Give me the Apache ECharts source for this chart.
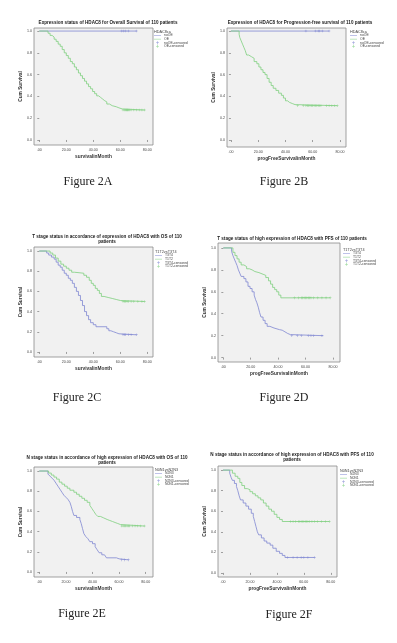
<!DOCTYPE html>
<html>
<head>
<meta charset="utf-8">
<script src="https://cdn.jsdelivr.net/npm/echarts@6/dist/echarts.min.js"></script>
<style>
  html, body { margin: 0; padding: 0; background: #fff; }
  #chart { width: 397px; height: 643px; }
</style>
</head>
<body>
<div id="chart"></div>
<script>
// ticks
const xTickValues = [0, 20, 40, 60, 80]
const xTickLabels = ['.00', '20.00', '40.00', '60.00', '80.00']
const yTickValues = [0, 0.2, 0.4, 0.6, 0.8, 1.0]
const yTickLabels = ['0.0', '0.2', '0.4', '0.6', '0.8', '1.0']

// texts
const panelTitles = [
  ['Expression status of HDAC8 for Overall Survival of 110 patients'],
  ['Expression of HDAC8 for Progression-free survival of 110 patients'],
  ['T stage status in accordance of expression of HDAC8 with OS of 110', 'patients'],
  ['T stage status of high expression of HDAC8 with PFS of 110 patients'],
  ['N stage status in accordance of high expression of HDAC8 with OS of 110', 'patients'],
  ['N stage status in accordance of high expression of HDAC8 with PFS of 110', 'patients']
]
const figureLabels = ['Figure 2A', 'Figure 2B', 'Figure 2C', 'Figure 2D', 'Figure 2E', 'Figure 2F']
const xNames = ['survivalinMonth', 'progFreeSurvivalinMonth', 'survivalinMonth',
  'progFreeSurvivalinMonth', 'survivalinMonth', 'progFreeSurvivalinMonth']
const legendTitles = ['HDAC8ca', 'HDAC8ca', 'T1T2vsT3T4', 'T1T2vsT3T4', 'N0N1vsN2N3', 'N0N1vsN2N3']
const groupNames = [['noOE', 'OE'], ['noOE', 'OE'], ['T3T4', 'T1T2'], ['T3T4', 'T1T2'],
  ['N2N3', 'N0N1'], ['N2N3', 'N0N1']]

// Kaplan-Meier steps: [month, cum survival]
const osNoOE = [[0, 1], [72, 1]]
const osOE = [[0, 1], [6.5, 0.98], [8, 0.96], [9.5, 0.945], [11, 0.925], [12.5, 0.905], [14, 0.88],
  [15.5, 0.86], [17, 0.83], [18.5, 0.8], [20, 0.775], [21.5, 0.75], [23, 0.72], [24.5, 0.7],
  [26, 0.67], [27.5, 0.645], [29, 0.615], [30.5, 0.59], [32, 0.565], [33.5, 0.54], [35, 0.515],
  [36.5, 0.49], [38, 0.47], [39.5, 0.445], [41, 0.425], [42.5, 0.405], [44, 0.39], [45.5, 0.375],
  [47, 0.36], [48.5, 0.35], [50, 0.33], [52, 0.315], [54, 0.305], [57, 0.295], [59, 0.285],
  [61.5, 0.275], [78, 0.275]]
const pfsNoOE = [[0, 1], [72, 1]]
const pfsOE = [[0, 1], [6, 0.97], [6.5, 0.94], [7.5, 0.91], [8.5, 0.88], [9.5, 0.85], [10.5, 0.82],
  [11.5, 0.78], [13, 0.765], [15, 0.75], [17, 0.72], [19, 0.7], [20.5, 0.67], [22, 0.645],
  [23.5, 0.62], [25, 0.6], [26.5, 0.565], [28, 0.53], [29.5, 0.5], [31, 0.475], [33, 0.455],
  [35, 0.43], [37, 0.41], [38.5, 0.385], [40, 0.36], [41.5, 0.345], [43, 0.335], [45, 0.325],
  [47, 0.315], [78, 0.315]]
const osT3T4 = [[0, 1], [5.5, 0.98], [7, 0.96], [9, 0.94], [11, 0.92], [12.5, 0.89], [14, 0.86],
  [15.5, 0.84], [17, 0.81], [18.5, 0.78], [20, 0.76], [21.5, 0.73], [23, 0.71], [24.5, 0.68],
  [26, 0.64], [27.5, 0.6], [29, 0.56], [30.5, 0.51], [32, 0.46], [33.5, 0.4], [35, 0.36],
  [36.5, 0.32], [38, 0.29], [40, 0.27], [42, 0.25], [50, 0.23], [51.5, 0.21], [53, 0.2],
  [55, 0.19], [57, 0.18], [59, 0.17], [72, 0.17]]
const osT1T2 = [[0, 1], [8, 0.98], [10, 0.96], [12, 0.93], [14, 0.9], [16, 0.87], [18, 0.85],
  [20, 0.83], [22, 0.81], [24, 0.79], [26, 0.78], [33, 0.76], [35, 0.74], [37, 0.71], [38.5, 0.68],
  [40, 0.66], [41.5, 0.63], [43, 0.61], [44.5, 0.58], [46, 0.55], [48, 0.54], [51, 0.53],
  [54, 0.52], [57, 0.51], [60, 0.5], [78, 0.5]]
const pfsT3T4 = [[0, 1], [6, 0.97], [7, 0.93], [8, 0.9], [9, 0.87], [10, 0.84], [11, 0.8], [12, 0.77],
  [13, 0.74], [15, 0.72], [16.5, 0.69], [18, 0.65], [19.5, 0.63], [21, 0.6], [22.5, 0.57],
  [23.5, 0.53], [24.5, 0.5], [25.5, 0.46], [26.5, 0.41], [27.5, 0.37], [29, 0.34], [30.5, 0.31],
  [32, 0.285], [34, 0.27], [37, 0.255], [41, 0.25], [43, 0.235], [45, 0.22], [47, 0.21],
  [49, 0.2], [73, 0.2]]
const pfsT1T2 = [[0, 1], [7, 0.96], [8.5, 0.93], [10, 0.9], [11.5, 0.87], [13, 0.845], [15, 0.83],
  [17, 0.81], [19, 0.8], [21, 0.785], [23, 0.775], [26, 0.76], [29, 0.75], [31, 0.73], [33, 0.7],
  [34.5, 0.67], [36, 0.64], [37.5, 0.62], [39, 0.6], [40.5, 0.57], [42, 0.545], [78, 0.545]]
const osN2N3 = [[0, 1], [6.5, 0.97], [8, 0.95], [9.5, 0.93], [11, 0.91], [12.5, 0.88], [14, 0.85],
  [15.5, 0.82], [17, 0.79], [18.5, 0.76], [20, 0.74], [21.5, 0.72], [23, 0.69], [24, 0.65],
  [25, 0.6], [26, 0.56], [28, 0.54], [30.5, 0.52], [31.5, 0.48], [32.5, 0.43], [33.5, 0.38],
  [35, 0.35], [36.5, 0.33], [38, 0.3], [40, 0.28], [42, 0.25], [43.5, 0.22], [45, 0.19],
  [47, 0.17], [49, 0.16], [50.5, 0.14], [58, 0.13], [60, 0.12], [67, 0.12]]
const osN0N1 = [[0, 1], [7, 0.98], [9, 0.96], [11, 0.94], [13, 0.92], [15, 0.89], [17, 0.87],
  [19, 0.85], [21, 0.83], [23, 0.81], [26, 0.79], [28, 0.77], [30, 0.75], [32, 0.73], [34, 0.71],
  [36, 0.69], [38, 0.66], [39.5, 0.63], [41, 0.6], [42.5, 0.57], [44, 0.55], [46, 0.535],
  [48.5, 0.52], [51, 0.51], [53, 0.5], [55, 0.49], [57, 0.48], [59, 0.47], [61, 0.46],
  [62, 0.455], [79, 0.455]]
const pfsN2N3 = [[0, 1], [5, 0.97], [6, 0.93], [7, 0.9], [8.5, 0.87], [10, 0.84], [11, 0.8], [12, 0.75],
  [13, 0.71], [15, 0.68], [17, 0.65], [19, 0.62], [21, 0.58], [22.5, 0.55], [23.5, 0.5],
  [24.5, 0.45], [25.5, 0.4], [26.5, 0.37], [28.5, 0.34], [30.5, 0.31], [32.5, 0.29], [35, 0.27],
  [37, 0.24], [39.5, 0.21], [42, 0.19], [44, 0.17], [46, 0.15], [68, 0.15]]
const pfsN0N1 = [[0, 1], [7, 0.97], [9, 0.94], [11, 0.92], [12.5, 0.88], [14, 0.85], [16, 0.82],
  [18, 0.81], [20, 0.79], [22, 0.77], [24, 0.75], [26, 0.73], [28, 0.71], [30, 0.68], [32, 0.65],
  [34, 0.62], [36, 0.6], [38, 0.57], [40, 0.54], [42, 0.52], [44, 0.5], [79, 0.5]]

// censored months
const osNoOECens = [61, 62.5, 64, 66, 72]
const osOECens = [62, 63, 64, 64.5, 65, 65.5, 66, 67, 68, 70, 72, 74, 76, 78]
const pfsNoOECens = [55, 62, 64, 65, 67, 72]
const pfsOECens = [49, 53, 55, 56, 57, 58, 59, 60, 61, 62, 63, 64, 65, 66, 70, 72, 74, 76, 78]
const osT3T4Cens = [62, 63, 64, 66, 68, 72]
const osT1T2Cens = [62, 63, 64, 65, 66, 68, 70, 73, 76, 78]
const pfsT3T4Cens = [50, 54, 57, 62, 64, 66, 72]
const pfsT1T2Cens = [52, 55, 57, 58, 59, 60, 61, 62, 63, 64, 66, 69, 72, 75, 78]
const osN2N3Cens = [62, 64, 67]
const osN0N1Cens = [62, 63, 64, 65, 66, 67, 68, 70, 72, 74, 76, 79]
const pfsN2N3Cens = [48, 52, 55, 58, 60, 63, 68]
const pfsN0N1Cens = [50, 52, 54, 56, 57, 58, 59, 60, 61, 62, 63, 64, 66, 68, 70, 73, 76, 79]

const curves = [
  [osNoOE, osOE], [pfsNoOE, pfsOE], [osT3T4, osT1T2],
  [pfsT3T4, pfsT1T2], [osN2N3, osN0N1], [pfsN2N3, pfsN0N1]
]
const censored = [
  [osNoOECens, osOECens], [pfsNoOECens, pfsOECens], [osT3T4Cens, osT1T2Cens],
  [pfsT3T4Cens, pfsT1T2Cens], [osN2N3Cens, osN0N1Cens], [pfsN2N3Cens, pfsN0N1Cens]
]

// layout: grid [left, top, width, height], axis extents, text anchors
const layout = [
  { grid: [34, 28, 119, 117], x: [-3.9, 84.2], y: [-0.046, 1.028], title: [108, 23], leg: [154, 30], fig: [88, 182], yGap: 9 },
  { grid: [227, 28, 119, 119], x: [-2.9, 84.4], y: [-0.064, 1.028], title: [300, 23], leg: [350, 30], fig: [284, 182], yGap: 9 },
  { grid: [34, 247, 119, 110], x: [-3.9, 84.2], y: [-0.05, 1.04], title: [107, 237], leg: [155, 250], fig: [77, 398], yGap: 9 },
  { grid: [218, 243, 122, 119], x: [-3.9, 85.2], y: [-0.04, 1.045], title: [292, 239], leg: [343, 248], fig: [284, 398], yGap: 11 },
  { grid: [34, 467, 119, 110], x: [-4, 85.5], y: [-0.05, 1.04], title: [107, 458], leg: [155, 468], fig: [82, 614], yGap: 9 },
  { grid: [218, 466, 119, 111], x: [-3.7, 84.6], y: [-0.04, 1.04], title: [292, 455], leg: [340, 469], fig: [289, 615], yGap: 11 }
]

const colors = ['#7f86d2', '#7dcf7d']
const font = '"Liberation Sans", Arial, sans-serif'
const lineIcon = 'path://M0,0H14V1H0Z'
const crossIcon = 'path://M4,0H6V4H10V6H6V10H4V6H0V4H4Z'

function tickLabel(values, labels) {
  return v => {
    const i = values.findIndex(t => Math.abs(t - v) < 1e-6)
    return i >= 0 ? labels[i] : ''
  }
}

const grids = [], xAxes = [], yAxes = [], series = [], legends = [], graphics = []

layout.forEach((l, i) => {
  grids.push({
    left: l.grid[0], top: l.grid[1], width: l.grid[2], height: l.grid[3],
    show: true, backgroundColor: '#f1f1f1', borderColor: '#8a8a8a', borderWidth: 0.8
  })
  xAxes.push({
    type: 'value', gridIndex: i, min: l.x[0], max: l.x[1],
    name: xNames[i], nameLocation: 'middle', nameGap: 9,
    nameTextStyle: { fontSize: 4.8, fontWeight: 'bold', color: '#333', fontFamily: font },
    axisLine: { show: false },
    axisTick: { show: true, length: 2, customValues: xTickValues, lineStyle: { color: '#666', width: 0.6 } },
    axisLabel: {
      customValues: xTickValues, formatter: tickLabel(xTickValues, xTickLabels),
      fontSize: 3.6, color: '#444', margin: 3, fontFamily: font
    },
    splitLine: { show: false }
  })
  yAxes.push({
    type: 'value', gridIndex: i, min: l.y[0], max: l.y[1],
    name: 'Cum Survival', nameLocation: 'middle', nameGap: l.yGap,
    nameTextStyle: { fontSize: 4.8, fontWeight: 'bold', color: '#333', fontFamily: font },
    axisLine: { show: false },
    axisTick: { show: true, length: 2, customValues: yTickValues, lineStyle: { color: '#666', width: 0.6 } },
    axisLabel: {
      customValues: yTickValues, formatter: tickLabel(yTickValues, yTickLabels),
      fontSize: 3.6, color: '#444', margin: 2, fontFamily: font
    },
    splitLine: { show: false }
  })

  const names = groupNames[i]
  curves[i].forEach((c, k) => {
    series.push({
      name: names[k], type: 'line', step: 'end', xAxisIndex: i, yAxisIndex: i,
      data: c, showSymbol: false, symbol: 'none', silent: true,
      lineStyle: { color: colors[k], width: 0.8 }, itemStyle: { color: colors[k] }
    })
  })
  censored[i].forEach((times, k) => {
    const c = curves[i][k]
    const level = c[c.length - 1][1]
    series.push({
      name: names[k] + '-censored', type: 'scatter', xAxisIndex: i, yAxisIndex: i,
      data: times.map(t => [t, level]), symbol: crossIcon, symbolSize: 2.6, silent: true,
      itemStyle: { color: colors[k] }
    })
  })

  legends.push({
    left: l.leg[0], top: l.leg[1] + 4, orient: 'vertical', padding: 0,
    itemWidth: 7, itemHeight: 3, itemGap: 0.6, selectedMode: false,
    textStyle: { fontSize: 3.4, color: '#444', fontFamily: font, padding: [0, 0, 0, -2] },
    data: [
      { name: names[0], icon: lineIcon },
      { name: names[1], icon: lineIcon },
      { name: names[0] + '-censored', icon: crossIcon },
      { name: names[1] + '-censored', icon: crossIcon }
    ]
  })

  graphics.push({
    type: 'text', x: l.leg[0], y: l.leg[1],
    style: { text: legendTitles[i], fontSize: 3.8, fontFamily: font, fill: '#444', align: 'left', verticalAlign: 'top' }
  })
  panelTitles[i].forEach((line, j) => {
    graphics.push({
      type: 'text', x: l.title[0], y: l.title[1] + j * 5,
      style: { text: line, fontSize: 4.6, fontWeight: 'bold', fontFamily: font, fill: '#222', align: 'center', verticalAlign: 'middle' }
    })
  })
  graphics.push({
    type: 'text', x: l.fig[0], y: l.fig[1],
    style: { text: figureLabels[i], fontSize: 12, fontFamily: '"Liberation Serif", "DejaVu Serif", serif', fill: '#222', align: 'center', verticalAlign: 'middle' }
  })
})

const chart = echarts.init(document.getElementById('chart'))
chart.setOption({
  backgroundColor: '#fff',
  animation: false,
  grid: grids,
  xAxis: xAxes,
  yAxis: yAxes,
  legend: legends,
  graphic: graphics,
  series: series
})
</script>
</body>
</html>
